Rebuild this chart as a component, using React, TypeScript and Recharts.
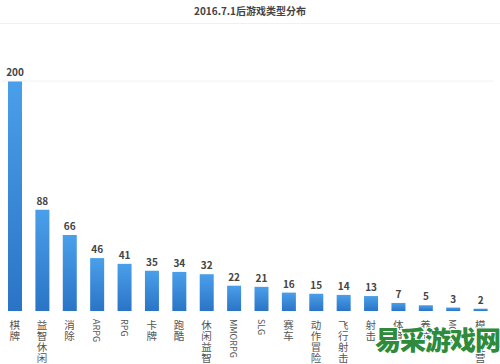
import { BarChart, Bar, XAxis, YAxis, LabelList, ReferenceLine } from 'recharts';

const categories = ['棋牌', '益智休闲', '消除', 'ARPG', 'RPG', '卡牌', '跑酷', '休闲益智', 'MMORPG', 'SLG', '赛车', '动作冒险', '飞行射击', '射击', '体育', '养成', 'MOBA', '模拟经营'];
const counts = [200, 88, 66, 46, 41, 35, 34, 32, 22, 21, 16, 15, 14, 13, 7, 5, 3, 2];

const chartData = categories.map((name, i) => ({ name, count: counts[i] }));

const FONT = '"Noto Sans CJK SC", "Noto Sans", sans-serif';

function VerticalTick({ x, y, payload }: any) {
  const label: string = payload.value;
  const latin = /^[A-Za-z0-9]+$/.test(label);
  if (latin) {
    return (
      <g transform={`translate(${x},${y + 8})`}>
        <text
          transform="rotate(90)"
          x={0}
          y={0}
          dominantBaseline="central"
          fontSize={9}
          fill="#555"
          fontFamily={FONT}
        >
          {label}
        </text>
      </g>
    );
  }
  return (
    <g transform={`translate(${x},${y + 8})`}>
      {label.split('').map((ch, i) => (
        <text
          key={i}
          x={0}
          y={i * 11}
          textAnchor="middle"
          dominantBaseline="hanging"
          fontSize={10.5}
          fill="#555"
          fontFamily={FONT}
        >
          {ch}
        </text>
      ))}
    </g>
  );
}

export default function App() {
  return (
    <div style={{ position: 'absolute', left: 0, top: 0, width: 500, height: 364, background: '#fff', overflow: 'hidden' }}>
      <div
        style={{
          position: 'absolute',
          left: 0,
          top: 3,
          width: 500,
          textAlign: 'center',
          fontFamily: FONT,
          fontSize: 10,
          fontWeight: 700,
          color: '#444',
        }}
      >
        2016.7.1后游戏类型分布
      </div>
      <div style={{ position: 'absolute', left: 0, top: 23, width: 500, height: 1, background: '#f0f0f0' }} />
      <BarChart
        width={500}
        height={364}
        data={chartData}
        margin={{ top: 81, right: 6, bottom: 0, left: 1 }}
        barCategoryGap={0}
      >
        <defs>
          <linearGradient id="barFill" x1="0" y1="0" x2="0" y2="1">
            <stop offset="0%" stopColor="#4a9fea" />
            <stop offset="100%" stopColor="#2a74c6" />
          </linearGradient>
        </defs>
        <XAxis
          dataKey="name"
          interval={0}
          height={53}
          axisLine={false}
          tickLine={false}
          tickSize={0}
          tickMargin={0}
          tick={<VerticalTick />}
        />
        <YAxis hide domain={[0, 200]} />
        <ReferenceLine y={200} stroke="#f2f2f2" />
        <Bar dataKey="count" fill="url(#barFill)" barSize={14} isAnimationActive={false}>
          <LabelList
            dataKey="count"
            position="top"
            offset={5}
            fontSize={10}
            fontWeight={700}
            fill="#444"
            fontFamily={FONT}
          />
        </Bar>
      </BarChart>
      <div
        style={{
          position: 'absolute',
          left: 375,
          top: 320,
          fontFamily: FONT,
          fontSize: 26,
          fontWeight: 900,
          color: '#2e8b3c',
          letterSpacing: -1,
          textShadow: '1px 1px 0 #fff, -1px -1px 0 #fff, 1px -1px 0 #fff, -1px 1px 0 #fff',
          whiteSpace: 'nowrap',
        }}
      >
        易采游戏网
      </div>
    </div>
  );
}
